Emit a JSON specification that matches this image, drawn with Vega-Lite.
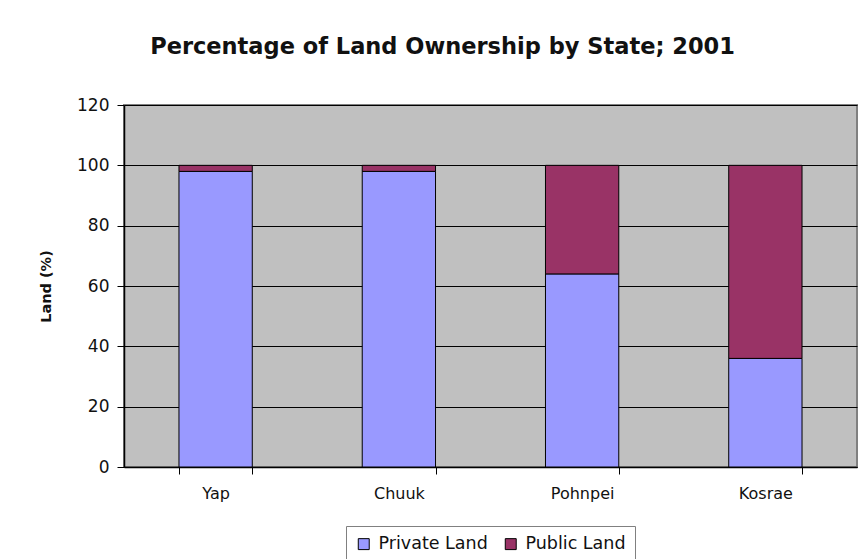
{
  "$schema": "https://vega.github.io/schema/vega-lite/v6.json",
  "autosize": {"type": "none"},
  "width": 733,
  "height": 362,
  "padding": {"left": 124, "top": 105, "right": 2, "bottom": 92},
  "background": "white",
  "title": {
    "text": "Percentage of Land Ownership by State; 2001",
    "font": "DejaVu Sans",
    "fontSize": 22.5,
    "fontWeight": "bold",
    "color": "#111111",
    "anchor": "middle",
    "frame": "group",
    "dx": -48,
    "offset": 38
  },
  "data": {
    "values": [
      {"state": "Yap", "type": "Private Land", "value": 98},
      {"state": "Yap", "type": "Public Land", "value": 2},
      {"state": "Chuuk", "type": "Private Land", "value": 98},
      {"state": "Chuuk", "type": "Public Land", "value": 2},
      {"state": "Pohnpei", "type": "Private Land", "value": 64},
      {"state": "Pohnpei", "type": "Public Land", "value": 36},
      {"state": "Kosrae", "type": "Private Land", "value": 36},
      {"state": "Kosrae", "type": "Public Land", "value": 64}
    ]
  },
  "mark": {"type": "bar", "stroke": "#000000", "strokeWidth": 1},
  "encoding": {
    "x": {
      "field": "state",
      "type": "nominal",
      "sort": ["Yap", "Chuuk", "Pohnpei", "Kosrae"],
      "scale": {"paddingInner": 0.6, "paddingOuter": 0.3},
      "axis": {
        "title": null,
        "labelAngle": 0,
        "labelFont": "DejaVu Sans",
        "labelFontSize": 16,
        "labelColor": "#111111",
        "labelPadding": 11,
        "tickBand": "extent",
        "tickSize": 7,
        "tickColor": "#000000",
        "domainColor": "#000000",
        "domainWidth": 1.5,
        "grid": false
      }
    },
    "y": {
      "field": "value",
      "type": "quantitative",
      "stack": "zero",
      "scale": {"domain": [0, 120], "nice": false},
      "axis": {
        "title": "Land (%)",
        "titleFont": "DejaVu Sans",
        "titleFontSize": 14.5,
        "titleFontWeight": "bold",
        "titleColor": "#111111",
        "titlePadding": 23,
        "values": [0, 20, 40, 60, 80, 100, 120],
        "labelFont": "DejaVu Sans",
        "labelFontSize": 17,
        "labelColor": "#111111",
        "labelPadding": 8,
        "tickSize": 7,
        "tickColor": "#000000",
        "domainColor": "#000000",
        "domainWidth": 1.5,
        "grid": true,
        "gridColor": "#000000",
        "gridWidth": 1
      }
    },
    "order": {"field": "type", "sort": "ascending"},
    "color": {
      "field": "type",
      "type": "nominal",
      "scale": {"domain": ["Private Land", "Public Land"], "range": ["#9999FF", "#993366"]},
      "legend": {
        "title": null,
        "orient": "bottom",
        "direction": "horizontal",
        "symbolType": "square",
        "symbolSize": 120,
        "symbolStrokeColor": "#000000",
        "symbolStrokeWidth": 1,
        "labelFont": "DejaVu Sans",
        "labelFontSize": 17.5,
        "labelColor": "#111111",
        "labelOffset": 6,
        "columnPadding": 14,
        "strokeColor": "#808080",
        "padding": 9,
        "offset": 25
      }
    }
  },
  "config": {
    "view": {"fill": "#C0C0C0", "stroke": "#808080", "strokeWidth": 2},
    "legend": {"layout": {"bottom": {"anchor": "middle"}}}
  }
}
